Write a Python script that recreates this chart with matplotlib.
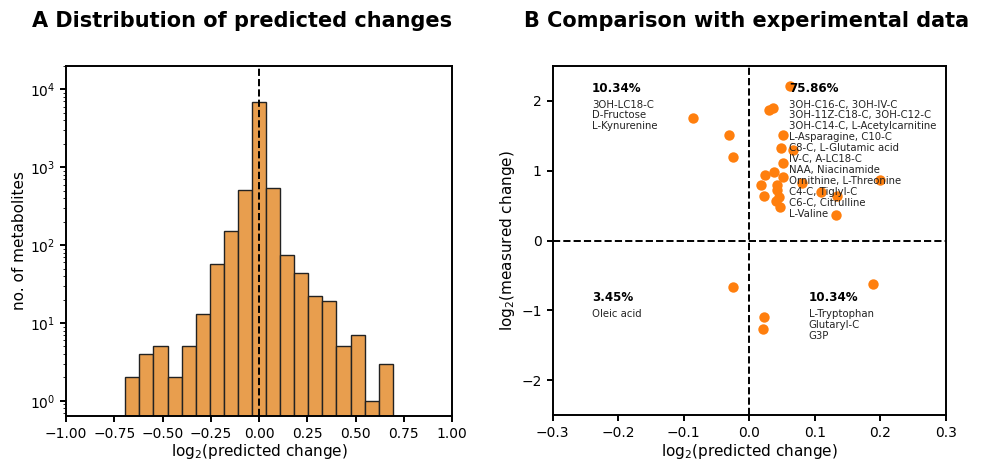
import numpy as np
import matplotlib
matplotlib.use('Agg')
import matplotlib.pyplot as plt

# Panel A: histogram of predicted log2 changes (counts per bin)
bin_lo = -0.693
bin_hi = 0.693
counts = [2, 4, 5, 2, 5, 13, 58, 151, 509, 6920, 550, 74, 44, 22, 19, 5, 7, 1, 3]

# Panel B: predicted vs measured log2 changes
pred = [0.062, -0.086, -0.031, -0.024, 0.031, 0.037, 0.051, 0.048, 0.067, 0.052,
        0.024, 0.038, 0.052, 0.081, 0.200, 0.018, 0.043, 0.042, 0.023, 0.110,
        0.134, 0.046, 0.041, 0.047, 0.132,
        -0.025, 0.189, 0.022, 0.021]
meas = [2.22, 1.75, 1.51, 1.19, 1.87, 1.90, 1.51, 1.32, 1.29, 1.11,
        0.94, 0.98, 0.91, 0.82, 0.86, 0.79, 0.79, 0.73, 0.64, 0.70,
        0.64, 0.63, 0.56, 0.48, 0.37,
        -0.67, -0.63, -1.10, -1.27]

pct_ul = '10.34%'
pct_ur = '75.86%'
pct_ll = '3.45%'
pct_lr = '10.34%'
names_ul = ['3OH-LC18-C', 'D-Fructose', 'L-Kynurenine']
names_ur = ['3OH-C16-C, 3OH-IV-C', '3OH-11Z-C18-C, 3OH-C12-C',
            '3OH-C14-C, L-Acetylcarnitine', 'L-Asparagine, C10-C',
            'C8-C, L-Glutamic acid', 'IV-C, A-LC18-C', 'NAA, Niacinamide',
            'Ornithine, L-Threonine', 'C4-C, Tiglyl-C', 'C6-C, Citrulline',
            'L-Valine']
names_ll = ['Oleic acid']
names_lr = ['L-Tryptophan', 'Glutaryl-C', 'G3P']

plt.rcParams['font.family'] = ['DejaVu Sans']
plt.rcParams['font.size'] = 10
plt.rcParams['axes.linewidth'] = 1.4
plt.rcParams['xtick.major.width'] = 1.4
plt.rcParams['ytick.major.width'] = 1.4
plt.rcParams['xtick.major.size'] = 4.5
plt.rcParams['ytick.major.size'] = 4.5

fig = plt.figure(figsize=(9.81, 4.62), dpi=100)

# ---- A
ax1 = fig.add_axes([0.0673, 0.0996, 0.3935, 0.7576])
edges = np.linspace(bin_lo, bin_hi, len(counts) + 1)
centers = (edges[:-1] + edges[1:]) / 2
ax1.hist(centers, bins=edges, weights=counts, log=True,
         color='#E89E4E', edgecolor='#222222', linewidth=1.0)
ax1.axvline(0, color='black', ls='--', lw=1.4)
ax1.set_xlim(-1, 1)
ax1.set_ylim(0.64, 2.0e4)
ax1.set_xticks(np.arange(-1, 1.01, 0.25))
ax1.set_xticklabels(['%.2f' % v if v >= 0 else '\u2212%.2f' % -v for v in np.arange(-1, 1.01, 0.25)])
ax1.set_xlabel('log$_2$(predicted change)', labelpad=1, fontsize=11)
ax1.set_ylabel('no. of metabolites', fontsize=11, labelpad=2)

# ---- B
ax2 = fig.add_axes([0.5634, 0.1017, 0.4006, 0.7554])
ax2.scatter(pred, meas, s=56, color='#FF7F0E', zorder=3, linewidths=0)
ax2.axvline(0, color='black', ls='--', lw=1.4)
ax2.axhline(0, color='black', ls='--', lw=1.4)
ax2.set_xlim(-0.3, 0.3)
ax2.set_ylim(-2.5, 2.5)
ax2.set_xticks([-0.3, -0.2, -0.1, 0.0, 0.1, 0.2, 0.3])
ax2.set_yticks([-2, -1, 0, 1, 2])
ax2.set_xlabel('log$_2$(predicted change)', labelpad=1, fontsize=11)
ax2.set_ylabel('log$_2$(measured change)', labelpad=3, fontsize=11)

def block(ax, x, y, pct, names):
    ax.text(x, y, pct, fontsize=8.6, fontweight='bold', va='center', ha='left', zorder=4)
    ax.text(x, y - 0.16, '\n'.join(names), fontsize=7.3, va='top', ha='left',
            color='#222222', linespacing=1.12, zorder=4)

block(ax2, -0.24, 2.18, pct_ul, names_ul)
block(ax2, 0.061, 2.18, pct_ur, names_ur)
block(ax2, -0.24, -0.82, pct_ll, names_ll)
block(ax2, 0.091, -0.82, pct_lr, names_lr)

# panel titles
fig.text(242 / 981, 1 - 26.7 / 462, 'A Distribution of predicted changes',
         fontweight='bold', fontsize=15, ha='center', va='baseline')
fig.text(746.5 / 981, 1 - 26.7 / 462, 'B Comparison with experimental data',
         fontweight='bold', fontsize=15, ha='center', va='baseline')

fig.savefig('out.png', dpi=100)
